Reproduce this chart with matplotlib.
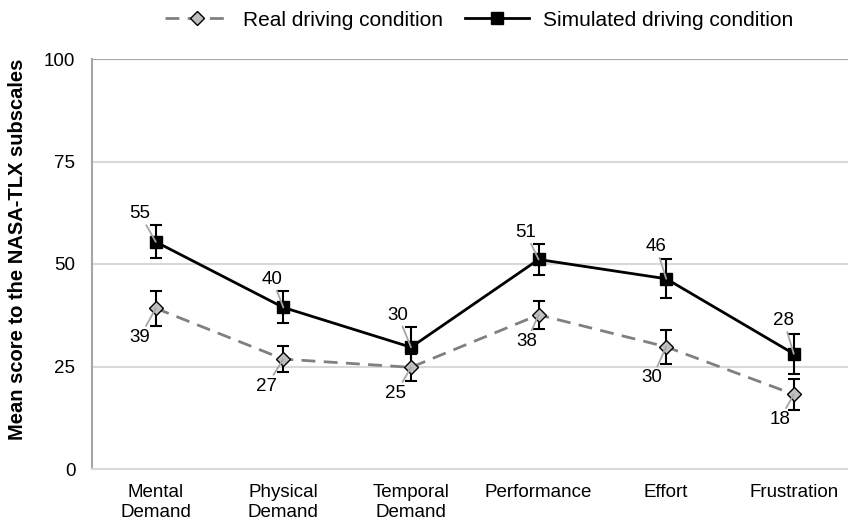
import matplotlib
matplotlib.use("Agg")
import matplotlib.pyplot as plt
import numpy as np

plt.rcParams['font.family'] = ['Liberation Sans', 'DejaVu Sans']

categories = ["Mental\nDemand", "Physical\nDemand", "Temporal\nDemand", "Performance", "Effort", "Frustration"]
real_vals = [39.2, 26.8, 24.8, 37.6, 29.8, 18.2]
real_err = [4.3, 3.1, 3.3, 3.4, 4.2, 3.7]
real_labels = ["39", "27", "25", "38", "30", "18"]
sim_vals = [55.4, 39.4, 29.7, 51.1, 46.4, 28.1]
sim_err = [4.0, 3.9, 5.0, 3.9, 4.8, 4.9]
sim_labels = ["55", "40", "30", "51", "46", "28"]
yticks = [0, 25, 50, 75, 100]

real_off = [(-16, -29), (-17, -27), (-15, -26), (-12, -27), (-14, -31), (-14, -25)]
sim_off = [(-16, 28), (-11, 28), (-13, 32), (-13, 27), (-10, 32), (-10, 33)]

FS = 13.5

fig = plt.figure(figsize=(8.48, 5.22), dpi=100)
ax = fig.add_axes([92/848, (522-469)/522, (848-92)/848, (469-59)/522])

x = np.arange(len(categories))

ax.errorbar(x, real_vals, yerr=real_err, fmt='none', ecolor='black', elinewidth=1.5, capsize=4, capthick=1.5, zorder=3)
ax.errorbar(x, sim_vals, yerr=sim_err, fmt='none', ecolor='black', elinewidth=1.5, capsize=4, capthick=1.5, zorder=3)

ax.plot(x, real_vals, color='#808080', linestyle=(0, (5, 3)), linewidth=2, marker='D', markersize=7,
        markerfacecolor='#bfbfbf', markeredgecolor='black', markeredgewidth=1, zorder=4,
        label='Real driving condition')
ax.plot(x, sim_vals, color='black', linewidth=2, marker='s', markersize=9,
        markerfacecolor='black', markeredgecolor='black', zorder=4,
        label='Simulated driving condition')

for i in range(len(categories)):
    ax.annotate(sim_labels[i], xy=(x[i], sim_vals[i]), xytext=sim_off[i], textcoords='offset pixels',
                ha='center', va='center', fontsize=FS,
                arrowprops=dict(arrowstyle='-', color='#a6a6a6', lw=1.3, shrinkA=0, shrinkB=0),
                zorder=5)
    ax.annotate(real_labels[i], xy=(x[i], real_vals[i]), xytext=real_off[i], textcoords='offset pixels',
                ha='center', va='center', fontsize=FS,
                arrowprops=dict(arrowstyle='-', color='#a6a6a6', lw=1.3, shrinkA=0, shrinkB=0),
                zorder=5)

ax.set_ylim(0, 100)
ax.set_xlim(-0.5, 5.425)
ax.set_yticks(yticks)
ax.set_xticks(x)
ax.set_xticklabels(categories, fontsize=FS, linespacing=1.22)
ax.tick_params(axis='both', length=0, labelsize=FS)
ax.tick_params(axis='y', pad=12)
ax.tick_params(axis='x', pad=11)
ax.yaxis.grid(True, color='#d9d9d9', linewidth=1.5)
ax.set_axisbelow(True)
for s in ['top', 'right']:
    ax.spines[s].set_visible(False)
ax.spines['left'].set_color('#a6a6a6')
ax.spines['left'].set_linewidth(1.5)
ax.spines['bottom'].set_color('#d9d9d9')
ax.spines['bottom'].set_linewidth(1.5)
ax.axhline(100, color='#a6a6a6', linewidth=1.5, zorder=1)

ax.set_ylabel('Mean score to the NASA-TLX subscales', fontsize=14.5, fontweight='bold')
ax.yaxis.set_label_coords(-(92 - 27) / 756, (469 - 249) / 410)

fig.legend(loc='center', bbox_to_anchor=(479/848, 1 - 20/522), ncol=2, frameon=False, fontsize=15,
           handlelength=3.1, columnspacing=1.05, handletextpad=0.65)

fig.savefig('out.png', dpi=100)
